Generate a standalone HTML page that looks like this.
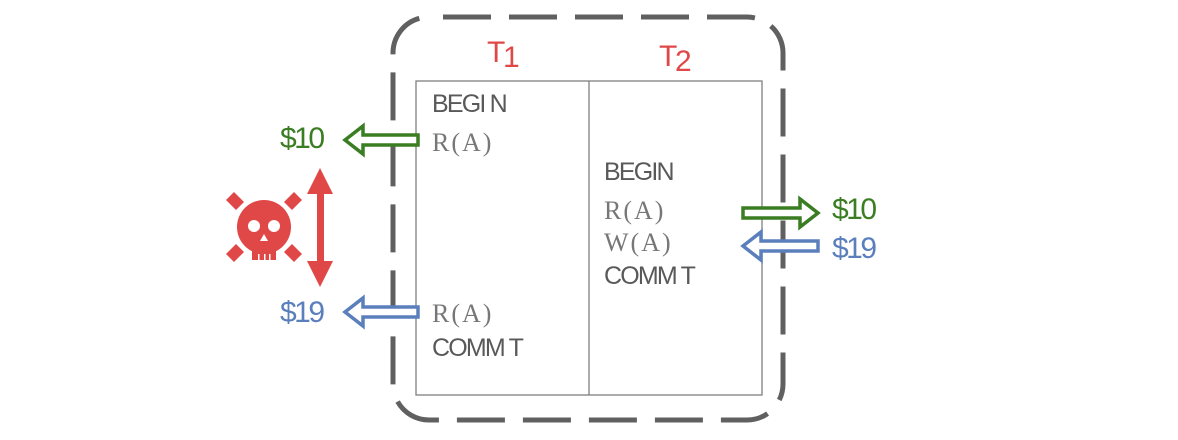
<!DOCTYPE html>
<html><head><style>
body{margin:0;background:#fff}
svg{display:block}
text{font-family:"Liberation Sans Narrow","Liberation Sans",sans-serif}
.k{fill:#595959;font-size:25px;letter-spacing:-1.8px}
.s{fill:#777;font-family:"Liberation Serif",serif;font-size:26px;letter-spacing:2px}
.g{fill:#3a7d22;font-size:30px;letter-spacing:-2.5px}
.b{fill:#5b7fbd;font-size:30px;letter-spacing:-2.5px}
.r{fill:#e04848;font-size:30px}
</style></head><body>
<svg width="1178" height="440" viewBox="0 0 1178 440" xmlns="http://www.w3.org/2000/svg">
<rect x="393" y="17" width="390" height="403" rx="36" fill="none" stroke="#606060" stroke-width="5" stroke-dasharray="48 18" stroke-dashoffset="-14"/>
<rect x="416" y="81" width="346" height="314" fill="none" stroke="#808080" stroke-width="1.3"/>
<line x1="589" y1="81" x2="589" y2="395" stroke="#808080" stroke-width="1.3"/>
<text x="487" y="62" class="r">T</text><text x="503" y="67" class="r" font-size="21">1</text>
<text x="659" y="66" class="r">T</text><text x="675" y="71" class="r" font-size="21">2</text>
<text x="432" y="112" class="k">BEGI N</text>
<text x="432" y="151" class="s">R(A)</text>
<text x="432" y="322" class="s">R(A)</text>
<text x="432" y="356" class="k">COMM T</text>
<text x="604" y="180" class="k">BEGIN</text>
<text x="604" y="219" class="s">R(A)</text>
<text x="604" y="251" class="s">W(A)</text>
<text x="604" y="284" class="k">COMM T</text>
<path d="M418,135 L363,135 L363,126 L345,140 L363,154 L363,145 L418,145 Z" fill="#fff" stroke="#3a7d22" stroke-width="3.5"/>
<path d="M418,307 L363,307 L363,298 L345,312 L363,326 L363,317 L418,317 Z" fill="#fff" stroke="#5b7fbd" stroke-width="3.5"/>
<path d="M743,208 L800,208 L800,199 L818,213 L800,227 L800,218 L743,218 Z" fill="#fff" stroke="#3a7d22" stroke-width="3.5"/>
<path d="M818,241 L761,241 L761,232 L743,246 L761,260 L761,251 L818,251 Z" fill="#fff" stroke="#5b7fbd" stroke-width="3.5"/>
<text x="280" y="148" class="g">$10</text>
<text x="280" y="322" class="b">$19</text>
<text x="832" y="219" class="g">$10</text>
<text x="832" y="258" class="b">$19</text>
<rect x="317" y="185" width="7" height="85" fill="#e04848"/>
<path d="M320,168 L307,194 L333,194 Z M320,287 L307,261 L333,261 Z" fill="#e04848"/>
<g fill="#e04848">
<circle cx="264" cy="227" r="27"/>
<rect x="252" y="238" width="24" height="22"/>
<path d="M226,200 L234,192 L244,202 L236,210 Z M302,200 L294,192 L284,202 L292,210 Z M226,254 L234,262 L244,252 L236,244 Z M302,254 L294,262 L284,252 L292,244 Z"/>
</g>
<circle cx="254" cy="226" r="6" fill="#fff"/>
<circle cx="274" cy="226" r="6" fill="#fff"/>
<path d="M264,234 L260,241 L268,241 Z" fill="#fff"/>
<rect x="258" y="254" width="1.5" height="6" fill="#fff"/><rect x="264" y="254" width="1.5" height="6" fill="#fff"/><rect x="269" y="254" width="1.5" height="6" fill="#fff"/>
</svg>
</body></html>
